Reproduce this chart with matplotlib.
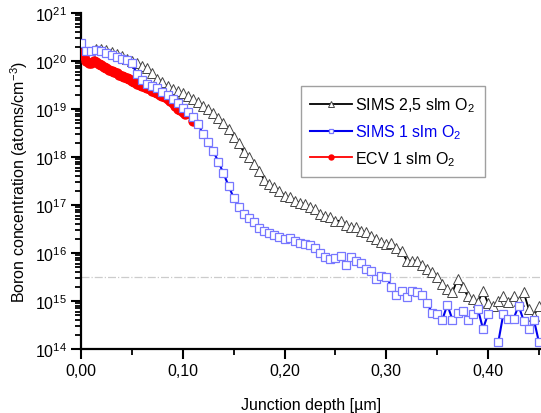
import numpy as np
import matplotlib
matplotlib.use("Agg")
import matplotlib.pyplot as plt
from matplotlib.ticker import LogLocator, MultipleLocator, NullFormatter

plt.rcParams['font.family'] = ['Liberation Sans', 'DejaVu Sans']
plt.rcParams['mathtext.default'] = 'regular'

# ---------------- data ----------------
sims_depth = np.round(np.arange(0, 91) * 0.005, 3)  # µm

sims25_log = [
    20.30, 20.12, 20.15, 20.26, 20.25, 20.22, 20.19, 20.15, 20.10, 20.04,
    20.00, 19.96, 19.90, 19.86, 19.74, 19.63, 19.56, 19.47, 19.42, 19.37,
    19.33, 19.27, 19.21, 19.14, 19.06, 19.00, 18.92, 18.81, 18.71, 18.58,
    18.42, 18.29, 18.10, 18.01, 17.85, 17.70, 17.53, 17.43, 17.37, 17.30,
    17.19, 17.16, 17.09, 17.05, 17.02, 16.95, 16.92, 16.81, 16.78, 16.74,
    16.67, 16.67, 16.58, 16.54, 16.54, 16.46, 16.43, 16.36, 16.29, 16.22,
    16.19, 16.20, 16.10, 16.05, 15.84, 15.84, 15.84, 15.75, 15.67, 15.60,
    15.50, 15.35, 15.25, 15.18, 15.46, 15.29, 15.10, 15.05, 14.97, 15.21,
    14.95, 14.90, 15.01, 15.11, 14.97, 15.11, 15.01, 15.18, 14.83, 14.69,
    14.90,
]

sims1_log = [
    20.38, 20.20, 20.21, 20.22, 20.20, 20.17, 20.13, 20.09, 20.05, 20.02,
    19.96, 19.72, 19.60, 19.53, 19.48, 19.43, 19.36, 19.30, 19.20, 19.12,
    19.02, 18.93, 18.83, 18.68, 18.48, 18.32, 18.12, 17.90, 17.66, 17.40,
    17.15, 16.95, 16.82, 16.72, 16.65, 16.52, 16.46, 16.42, 16.38, 16.33,
    16.30, 16.32, 16.24, 16.20, 16.19, 16.16, 16.10, 16.00, 15.91, 15.88,
    15.90, 15.94, 15.74, 15.91, 15.84, 15.80, 15.67, 15.63, 15.46, 15.53,
    15.51, 15.30, 15.12, 15.21, 15.08, 15.21, 15.18, 15.12, 14.95, 14.76,
    14.73, 14.61, 14.92, 14.61, 14.75, 14.80, 14.61, 14.73, 14.83, 14.42,
    14.73, np.nan, 14.14, 14.73, 14.63, 14.63, 14.90, 14.59, 14.42, 14.61,
    14.14,
]

ecv_depth = [
    0.0000, 0.0025, 0.0050, 0.0075, 0.0100, 0.0125, 0.0150, 0.0175, 0.0200,
    0.0225, 0.0250, 0.0275, 0.0300, 0.0325, 0.0350, 0.0375, 0.0400, 0.0425,
    0.0450, 0.0475, 0.0500, 0.0525, 0.0550, 0.0575, 0.0600, 0.0625, 0.0650,
    0.0675, 0.0700, 0.0725, 0.0750, 0.0775, 0.0800, 0.0825, 0.0850, 0.0875,
    0.0900, 0.0925, 0.0950, 0.0975, 0.1000, 0.1025, 0.1100,
]
ecv_log = [
    20.17, 20.10, 20.00, 19.95, 19.96, 19.99, 19.97, 19.93, 19.91,
    19.87, 19.85, 19.82, 19.79, 19.77, 19.74, 19.71, 19.69, 19.67,
    19.64, 19.62, 19.59, 19.56, 19.53, 19.50, 19.48, 19.46, 19.43,
    19.41, 19.38, 19.35, 19.33, 19.30, 19.27, 19.24, 19.21, 19.16,
    19.12, 19.06, 19.01, 18.97, 18.93, 18.89, 18.74,
]

reference_level = 3.2e15
series_labels = ["SIMS 2,5 slm O$_2$", "SIMS 1 slm O$_2$", "ECV 1 slm O$_2$"]
x_ticks = [0.0, 0.1, 0.2, 0.3, 0.4]
x_tick_labels = ["0,00", "0,10", "0,20", "0,30", "0,40"]

# ---------------- figure ----------------
fig = plt.figure(figsize=(5.41, 4.14), dpi=100)
ax = fig.add_axes([81 / 541, 1 - 350 / 414, 460 / 541, 336 / 414])

ax.axhline(reference_level, color='#cccccc', lw=0.9, ls='-.', zorder=1)

l1, = ax.plot(sims_depth, 10 ** np.array(sims25_log), color='black', lw=1.3,
              marker='^', ms=7, mfc='white', mec='#444444', mew=0.7,
              zorder=2, label=series_labels[0])
l3, = ax.plot(ecv_depth, 10 ** np.array(ecv_log), color='red', lw=1.3,
              marker='o', ms=6.5, mfc='red', mec='red',
              zorder=3, label=series_labels[2])
l2, = ax.plot(sims_depth, 10 ** np.array(sims1_log), color='#0000ee', lw=1.5,
              marker='s', ms=6, mfc='white', mec='#7777ff', mew=0.9,
              zorder=4, label=series_labels[1])

ax.set_yscale('log')
ax.set_ylim(1e14, 1e21)
ax.set_xlim(0, 0.452)

ax.yaxis.set_major_locator(LogLocator(base=10, numticks=10))
ax.yaxis.set_minor_locator(LogLocator(base=10, subs=np.arange(2, 10), numticks=100))
ax.yaxis.set_minor_formatter(NullFormatter())
ax.set_xticks(x_ticks, x_tick_labels)
ax.xaxis.set_minor_locator(MultipleLocator(0.05))

for s in ['top', 'right']:
    ax.spines[s].set_visible(False)
for s in ['left', 'bottom']:
    ax.spines[s].set_linewidth(1.6)

ax.tick_params(which='major', direction='out', length=7, width=1.5,
               labelsize=11.5, pad=3)
ax.tick_params(which='minor', direction='out', length=4, width=1.3)

ax.set_xlabel("Junction depth [µm]", fontsize=11.5, labelpad=14)
ax.set_ylabel("Boron concentration (atoms/cm$^{-3}$)", fontsize=11.5, labelpad=4)

leg = ax.legend(handles=[l1, l2, l3], loc='upper left',
                bbox_to_anchor=(0.478, 0.783), fontsize=11.5,
                frameon=True, fancybox=False, edgecolor='#888888',
                handlelength=2.6, handletextpad=0.2, labelspacing=0.5,
                borderpad=0.6, borderaxespad=0, markerscale=0.55)
leg.get_frame().set_linewidth(1.0)
leg.get_texts()[1].set_color('#0000ee')

fig.savefig("out.png", dpi=100)
